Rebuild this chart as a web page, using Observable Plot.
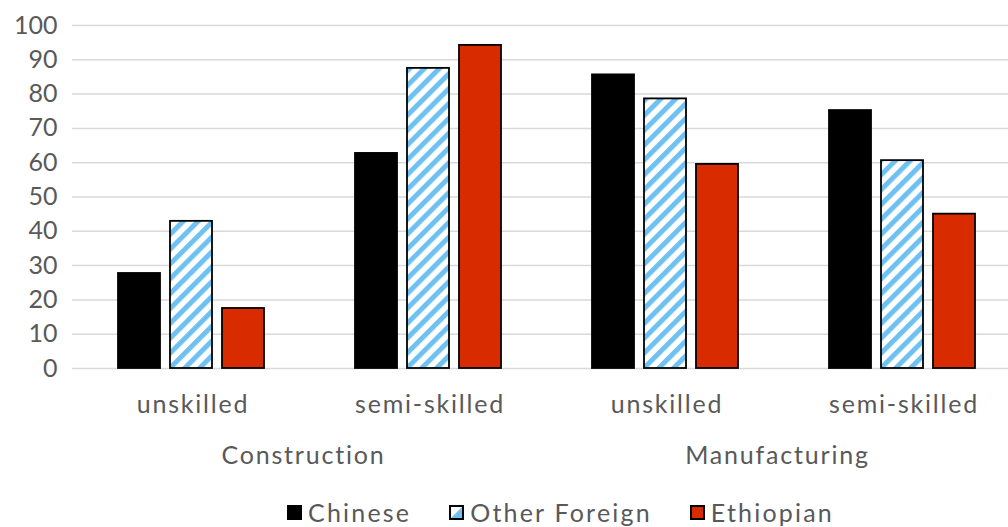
<!DOCTYPE html>
<html>
<head>
<meta charset="utf-8">
<script src="https://cdn.jsdelivr.net/npm/d3@7"></script>
<script src="https://cdn.jsdelivr.net/npm/@observablehq/plot@0.6"></script>
<style>
  html, body { margin: 0; padding: 0; background: #fff; }
  body { width: 1008px; height: 527px; overflow: hidden; font-family: Lato, sans-serif; color: #595959; }
  #chart svg g[aria-label="text"] text { letter-spacing: 1.8px; }
  #legend { display: flex; align-items: center; height: 37px; margin-left: 287px; font-size: 25px; line-height: 1; padding-top: 4px; letter-spacing: 2.2px; }
  #legend .item { display: flex; align-items: center; }
  #legend svg { margin-right: 6px; }
  #legend .gap { width: 38px; }
</style>
</head>
<body>
<div id="chart"></div>
<div id="legend"></div>
<script>
const sectors = ["Construction", "Construction", "Manufacturing", "Manufacturing"];
const skills = ["unskilled", "semi-skilled", "unskilled", "semi-skilled"];
const seriesNames = ["Chinese", "Other Foreign", "Ethiopian"];
const chinese = [27.7, 62.7, 85.6, 75.2];
const otherForeign = [42.9, 87.5, 78.6, 60.6];
const ethiopian = [17.5, 94.2, 59.5, 45.0];
const yTicks = [0, 10, 20, 30, 40, 50, 60, 70, 80, 90, 100];

const seriesValues = [chinese, otherForeign, ethiopian];
const groupKeys = sectors.map((s, i) => `${s} ${skills[i]}`);
const rows = [];
groupKeys.forEach((k, i) => {
  seriesNames.forEach((name, j) => {
    rows.push({key: k, series: name, value: seriesValues[j][i]});
  });
});
const groupRows = groupKeys.map((k, i) => ({key: k, skill: skills[i], sector: sectors[i]}));
const sectorRows = groupRows.filter((d, i) => i === 0 || sectors[i - 1] !== d.sector);

const fills = ["#000000", "url(#hatch)", "#d92b00"];

const defs = () => {
  const d = d3.create("svg:defs");
  const p = d.append("pattern")
    .attr("id", "hatch")
    .attr("patternUnits", "userSpaceOnUse")
    .attr("width", 10.5).attr("height", 10.5)
    .attr("patternTransform", "rotate(45)");
  p.append("rect").attr("width", 10.5).attr("height", 10.5).attr("fill", "#ffffff");
  p.append("rect").attr("width", 5).attr("height", 10.5).attr("fill", "#6ec1f0");
  return d.node();
};

const chart = Plot.plot({
  width: 1008,
  height: 490,
  marginTop: 25,
  marginLeft: 72,
  marginRight: -12,
  marginBottom: 122,
  style: {fontFamily: "Lato, sans-serif", fontSize: "25px", color: "#595959", background: "#fff"},
  fx: {domain: groupKeys, padding: 0, axis: null, label: null},
  x: {domain: seriesNames, paddingInner: 0.2, paddingOuter: 0.85, axis: null},
  y: {domain: [0, 100], axis: null},
  color: {domain: seriesNames, range: fills},
  marks: [
    defs,
    Plot.gridY(yTicks, {stroke: "#d9d9d9", strokeOpacity: 1, strokeWidth: 1.5}),
    Plot.axisY(yTicks, {tickSize: 0, tickPadding: 15, label: null, fontSize: 25, fill: "#595959"}),
    Plot.barY(rows, {fx: "key", x: "series", y: "value", fill: "series", stroke: "#000", strokeWidth: 1.8}),
    Plot.text(groupRows, {fx: "key", text: "skill", frameAnchor: "bottom", dy: 44, dx: 2, fontSize: 25, fill: "#595959"}),
    Plot.text(sectorRows, {fx: "key", text: "sector", frameAnchor: "bottom-right", textAnchor: "middle", dy: 95, dx: -6, fontSize: 25, fill: "#595959"})
  ]
});
document.getElementById("chart").appendChild(chart);

// legend
const legend = d3.select("#legend");
seriesNames.forEach((name, i) => {
  if (i > 0) legend.append("div").attr("class", "gap");
  const item = legend.append("div").attr("class", "item");
  const sw = item.append("svg").attr("width", 15).attr("height", 15);
  if (i === 1) {
    sw.append("rect").attr("x", 1).attr("y", 1).attr("width", 13).attr("height", 13).attr("fill", "#fff");
    sw.append("path").attr("d", "M14,1 L14,14 L1,14 Z").attr("fill", "#6ec1f0");
    sw.append("rect").attr("x", 1).attr("y", 1).attr("width", 13).attr("height", 13).attr("fill", "none").attr("stroke", "#000").attr("stroke-width", 2);
  } else {
    sw.append("rect").attr("x", 1).attr("y", 1).attr("width", 13).attr("height", 13).attr("fill", fills[i]).attr("stroke", "#000").attr("stroke-width", 2);
  }
  item.append("span").text(name);
});
</script>
</body>
</html>
